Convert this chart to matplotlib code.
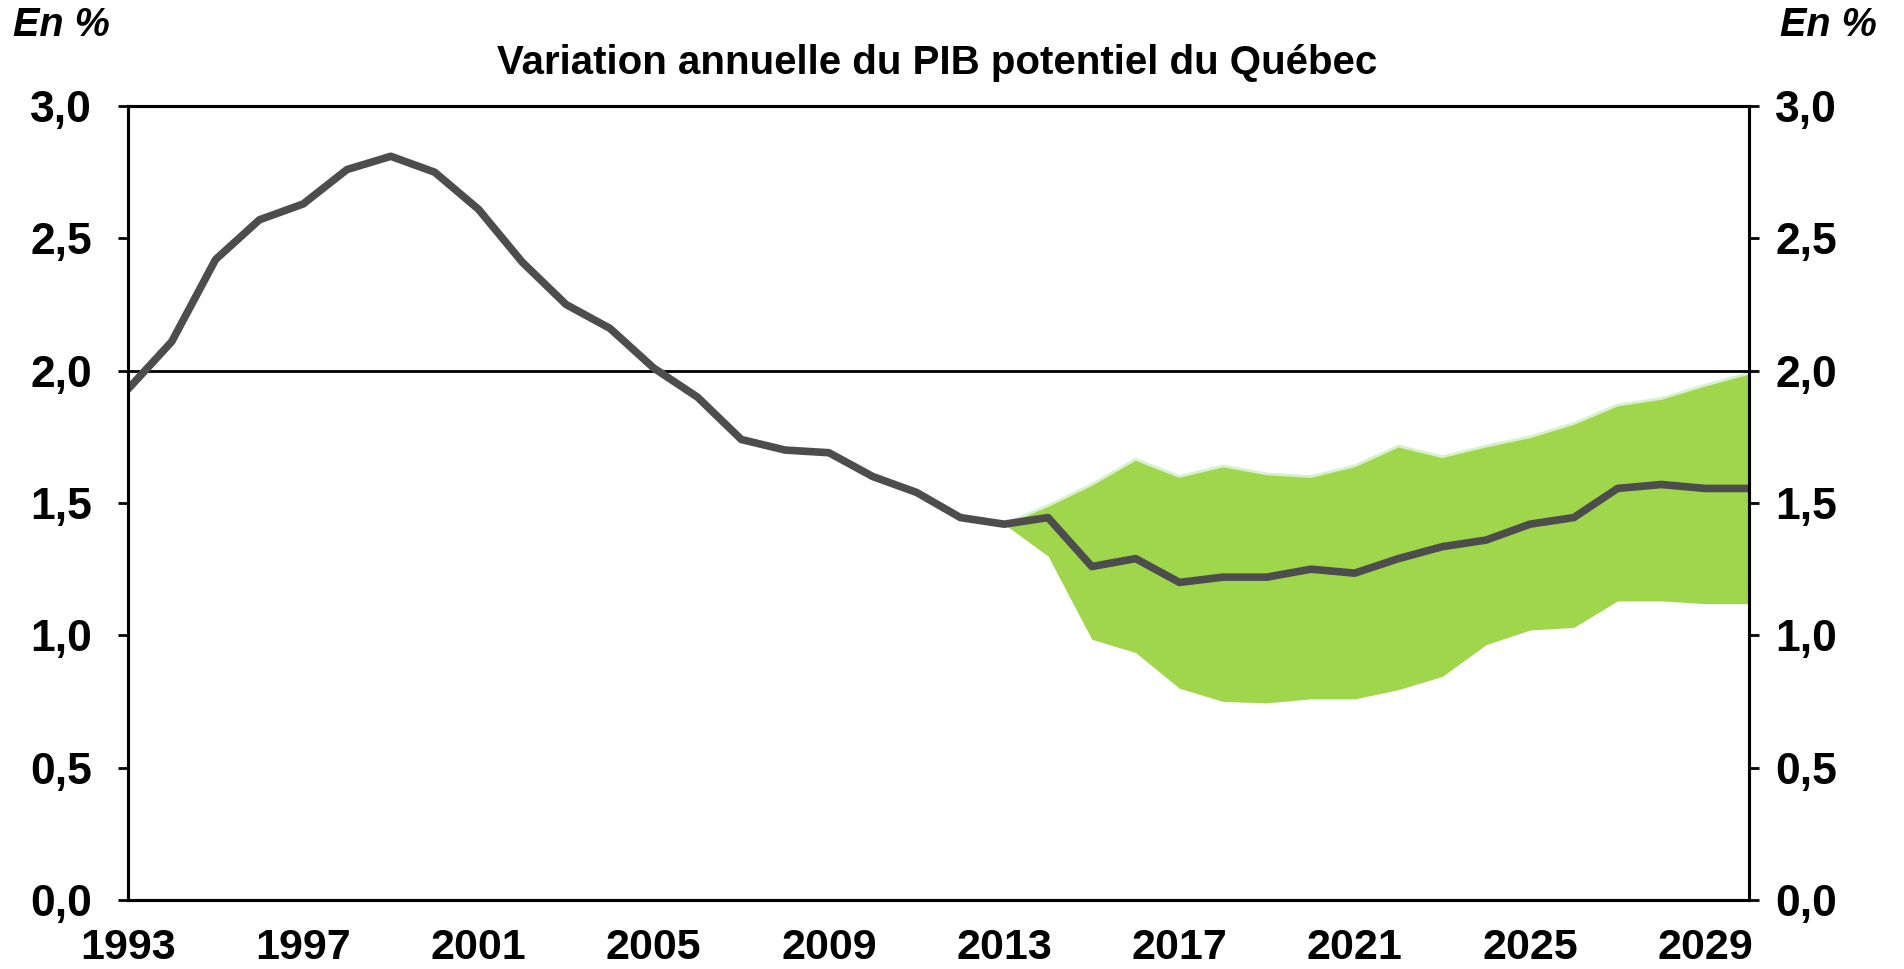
import matplotlib.pyplot as plt
from matplotlib.ticker import FuncFormatter

plt.rcParams['font.family'] = ['Liberation Sans', 'DejaVu Sans']

# PIB potentiel, variation annuelle (%)
annees = list(range(1993, 2031))
pib = [1.93, 2.11, 2.42, 2.57, 2.63, 2.76, 2.81, 2.75, 2.61, 2.41,
       2.25, 2.16, 2.01, 1.90, 1.74, 1.70, 1.69, 1.60, 1.54, 1.445,
       1.42, 1.445, 1.26, 1.29, 1.20, 1.22, 1.22, 1.25, 1.235, 1.29,
       1.335, 1.36, 1.42, 1.445, 1.555, 1.57, 1.555, 1.555]

# fourchette de projection
annees_band = list(range(2013, 2031))
band_haut = [1.42, 1.49, 1.57, 1.665, 1.60, 1.64, 1.61, 1.60, 1.64, 1.715,
             1.675, 1.715, 1.75, 1.80, 1.87, 1.895, 1.945, 1.99]
band_bas = [1.42, 1.30, 0.985, 0.935, 0.80, 0.75, 0.745, 0.76, 0.76, 0.795,
            0.845, 0.965, 1.02, 1.03, 1.13, 1.13, 1.12, 1.12]

xticks = list(range(1993, 2030, 4))
yticks = [0.0, 0.5, 1.0, 1.5, 2.0, 2.5, 3.0]

fmt = FuncFormatter(lambda v, p: f"{v:.1f}".replace('.', ','))

fig = plt.figure(figsize=(19.04, 9.69), dpi=100)
ax = fig.add_axes([0.0672, 0.0712, 0.8514, 0.8194])

ax.fill_between(annees_band, band_bas, band_haut, color='#a0d64b', lw=0, zorder=1)
ax.plot(annees_band, band_haut, color='#d6f0cc', lw=2, zorder=2)
ax.axhline(2.0, color='black', lw=2, zorder=3)
ax.plot(annees, pib, color='#4d4d4d', lw=5.5, solid_capstyle='round', zorder=4)

ax.set_xlim(1993, 2030)
ax.set_ylim(0, 3.0)
ax.set_xticks(xticks)
ax.set_yticks(yticks)
ax.yaxis.set_major_formatter(fmt)

# axe de droite, memes valeurs
ax2 = ax.twinx()
ax2.set_ylim(0, 3.0)
ax2.set_yticks(yticks)
ax2.yaxis.set_major_formatter(fmt)

for a in (ax, ax2):
    for s in a.spines.values():
        s.set_linewidth(2.2)

ax.tick_params(axis='y', direction='out', length=7, width=2, labelsize=32, pad=19)
ax2.tick_params(axis='y', direction='out', length=7, width=2, labelsize=32, pad=12)
ax.tick_params(axis='x', length=0, labelsize=31, pad=20)
for lab in ax.get_xticklabels() + ax.get_yticklabels() + ax2.get_yticklabels():
    lab.set_fontweight('bold')

fig.text(0.007, 0.974, 'En %', fontsize=28.5, fontweight='bold', fontstyle='italic',
         ha='left', va='center')
fig.text(0.986, 0.974, 'En %', fontsize=28.5, fontweight='bold', fontstyle='italic',
         ha='right', va='center')
fig.text(0.4924, 0.935, 'Variation annuelle du PIB potentiel du Québec', fontsize=29,
         fontweight='bold', ha='center', va='center')

fig.savefig('out.png', dpi=100)
